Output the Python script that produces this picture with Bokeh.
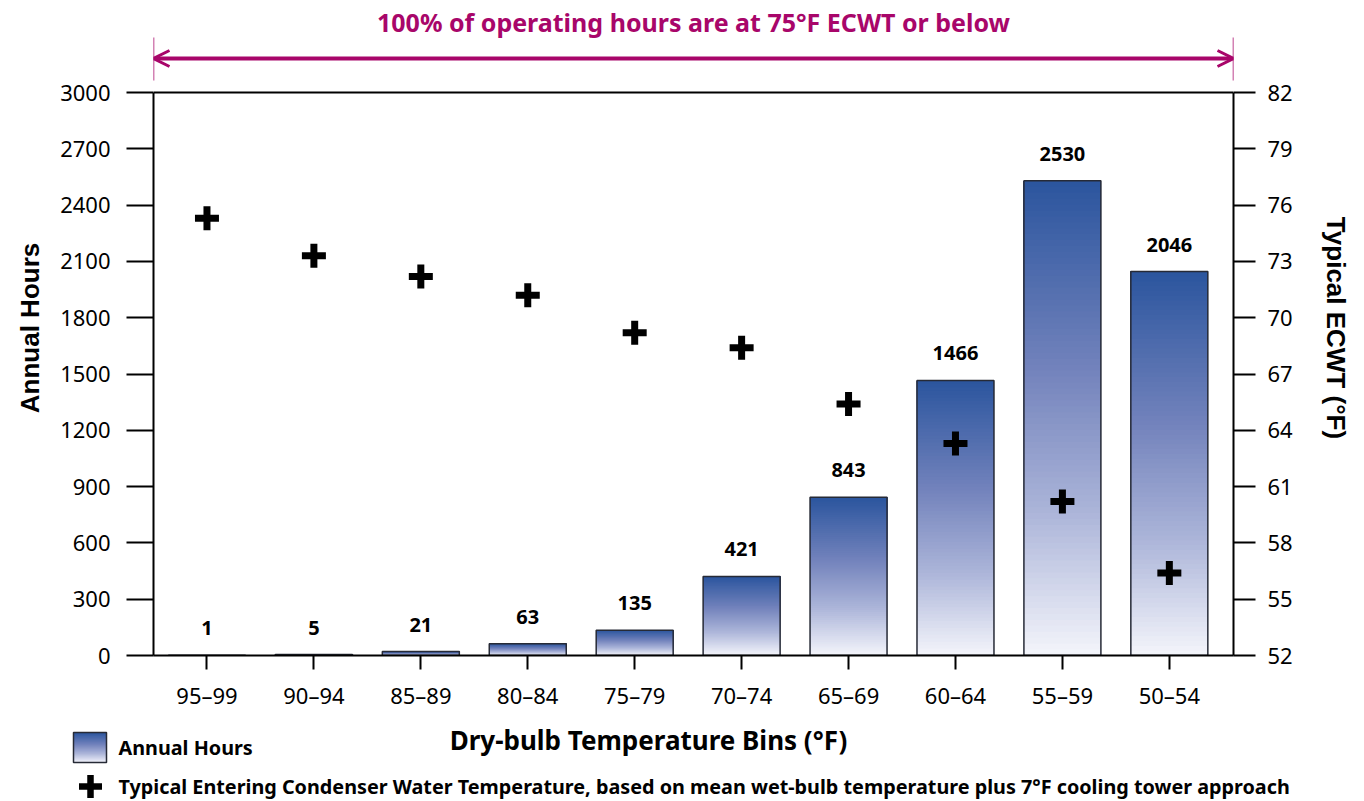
import numpy as np
from bokeh.plotting import figure
from bokeh.models import Range1d, LinearAxis, FixedTicker, Arrow, OpenHead
from bokeh.layouts import column
from bokeh.embed import file_html
from bokeh.resources import INLINE
from bokeh.core.properties import value

# ---------------- data ----------------
bins = ["95–99", "90–94", "85–89", "80–84", "75–79",
        "70–74", "65–69", "60–64", "55–59", "50–54"]
annual_hours = [1, 5, 21, 63, 135, 421, 843, 1466, 2530, 2046]
ecwt = [75.3, 73.3, 72.2, 71.2, 69.2, 68.4, 65.4, 63.3, 60.2, 56.4]
hours_ticks = list(range(0, 3001, 300))
ecwt_ticks = list(range(52, 83, 3))
title_text = "100% of operating hours are at 75°F ECWT or below"
xlabel_text = "Dry-bulb Temperature Bins (°F)"
legend_bar_text = "Annual Hours"
legend_marker_text = ("Typical Entering Condenser Water Temperature, based on mean "
                      "wet-bulb temperature plus 7°F cooling tower approach")

# ---------------- style ----------------
FONT = "Noto Sans"
PINK = "#A8066A"
STOPS = [(0.0, (244, 245, 251)), (0.3, (172, 181, 217)),
         (0.6, (115, 131, 188)), (1.0, (43, 85, 158))]


def grad(t):
    for (t0, c0), (t1, c1) in zip(STOPS[:-1], STOPS[1:]):
        if t <= t1:
            f = (t - t0) / (t1 - t0)
            c = [round(a + (b - a) * f) for a, b in zip(c0, c1)]
            return "#%02x%02x%02x" % tuple(c)
    return "#%02x%02x%02x" % STOPS[-1][1]


W = 1364
H_MAIN = 720
H_LEG = 81
FRAME_H = 655          # frame from window y 0 to 655
PLOT_H = 563           # pixels between 0 and 3000
hmax, emin, emax = hours_ticks[-1], ecwt_ticks[0], ecwt_ticks[-1]
y_end = hmax * FRAME_H / PLOT_H
e_end = emin + (emax - emin) * FRAME_H / PLOT_H
X0, X1 = 0.0, 10.1
n = len(bins)
xc = [i + 0.5 for i in range(n)]


def ypix(wy):  # window pixel y -> left-axis data value
    return (FRAME_H - wy) * hmax / PLOT_H


p = figure(width=W, height=H_MAIN, output_backend="svg", toolbar_location=None,
           x_range=Range1d(X0, X1), y_range=Range1d(0, y_end),
           min_border_left=153, min_border_right=W - 1233, min_border_top=0,
           min_border_bottom=H_MAIN - FRAME_H, title=None)
p.frame_align = False
p.outline_line_color = None
p.grid.visible = False
p.extra_y_ranges = {"ecwt": Range1d(emin, e_end)}

# gradient bars (nested slices, each reaching to the bar top -> no seams)
NS = 80
BW = 0.72
bl, br, bb, bt, bc = [], [], [], [], []
for x, v in zip(xc, annual_hours):
    for k in range(NS):
        bl.append(x - BW / 2); br.append(x + BW / 2)
        bb.append(v * k / NS); bt.append(v)
        bc.append(grad((k + 0.5) / NS))
p.quad(left=bl, right=br, bottom=bb, top=bt, fill_color=bc, line_color=None)
p.quad(left=[x - BW / 2 for x in xc], right=[x + BW / 2 for x in xc],
       bottom=0, top=annual_hours, fill_color=None,
       line_color="#262a36", line_width=1.5)

# bar labels
p.text(x=xc, y=annual_hours, text=[str(v) for v in annual_hours],
       text_font=value(FONT), text_font_style="bold", text_font_size="20px",
       text_align="center", text_baseline="middle", y_offset=-27, text_color="black")

# markers
p.scatter(x=xc, y=ecwt, y_range_name="ecwt", marker="cross", size=24,
          line_width=7, line_color="black")

# top border line
p.segment(x0=[X0], x1=[X1], y0=[hmax], y1=[hmax], line_color="black", line_width=2)

# arrow annotation above
ya = ypix(58)
p.add_layout(Arrow(x_start=X0, x_end=X1, y_start=ya, y_end=ya,
                   line_color=PINK, line_width=4,
                   start=OpenHead(size=16, line_color=PINK, line_width=3),
                   end=OpenHead(size=16, line_color=PINK, line_width=3)))
p.segment(x0=[X0, X1], x1=[X0, X1], y0=[ypix(37)] * 2, y1=[ypix(80)] * 2,
          line_color=PINK, line_width=1.5)
p.text(x=[(X0 + X1) / 2], y=[ypix(21)], text=[title_text], text_font=value(FONT),
       text_font_style="bold", text_font_size="25px", text_color=PINK,
       text_align="center", text_baseline="middle")

# axes
ax = p.xaxis[0]
ax.ticker = FixedTicker(ticks=xc)
ax.major_label_overrides = {float(x): b for x, b in zip(xc, bins)}
ay = p.yaxis[0]
ay.ticker = FixedTicker(ticks=hours_ticks)
ay.bounds = (0, hmax)
ay.axis_label = "Annual Hours"
ar = LinearAxis(y_range_name="ecwt", ticker=FixedTicker(ticks=ecwt_ticks),
                bounds=(emin, emax), axis_label="Typical ECWT (°F)")
p.add_layout(ar, "right")

for a in (ax, ay, ar):
    a.axis_line_width = 2
    a.axis_line_color = "black"
    a.major_tick_line_width = 2
    a.major_tick_line_color = "black"
    a.minor_tick_line_color = None
    a.major_tick_in = 0
    a.major_label_text_font = FONT
    a.major_label_text_font_size = "22px"
    a.major_label_text_color = "black"
    a.axis_label_text_font = "Liberation Sans"
    a.axis_label_text_font_style = "bold"
    a.axis_label_text_font_size = "26px"
    a.axis_label_text_color = "black"
ax.major_tick_out = 14
ax.major_label_standoff = 10
ay.major_tick_out = 27
ay.major_label_standoff = 16
ay.axis_label_standoff = 12
ar.major_tick_out = 22
ar.major_label_standoff = 12
ar.axis_label_standoff = 25

# ---------------- bottom panel: x label + legend ----------------
Y_TOP = H_MAIN
q = figure(width=W, height=H_LEG, output_backend="svg", toolbar_location=None,
           x_range=Range1d(0, W), y_range=Range1d(Y_TOP + H_LEG, Y_TOP),
           min_border=0, title=None)
q.frame_align = False
q.axis.visible = False
q.grid.visible = False
q.outline_line_color = None

q.text(x=[648], y=[739], text=[xlabel_text], text_font=value(FONT),
       text_font_style="bold", text_font_size="26px", text_align="center",
       text_baseline="middle", text_color="black")
# legend swatch
sl, sr, sb, st, sc = [], [], [], [], []
for k in range(NS):
    sl.append(73); sr.append(106)
    sb.append(762 - 30 * k / NS); st.append(732)
    sc.append(grad((k + 0.5) / NS))
q.quad(left=sl, right=sr, bottom=sb, top=st, fill_color=sc, line_color=None)
q.quad(left=[73], right=[106], bottom=[762], top=[732], fill_color=None,
       line_color="#262a36", line_width=1.5)
q.text(x=[118], y=[747], text=[legend_bar_text], text_font=value(FONT),
       text_font_style="bold", text_font_size="19.8px", text_align="left",
       text_baseline="middle", text_color="black")
q.scatter(x=[90], y=[786], marker="cross", size=23, line_width=6.5, line_color="black")
q.text(x=[118], y=[786], text=[legend_marker_text], text_font=value(FONT),
       text_font_style="bold", text_font_size="19.8px", text_align="left",
       text_baseline="middle", text_color="black")

layout = column(p, q, spacing=0)
open("out.html", "w").write(file_html(layout, INLINE))
